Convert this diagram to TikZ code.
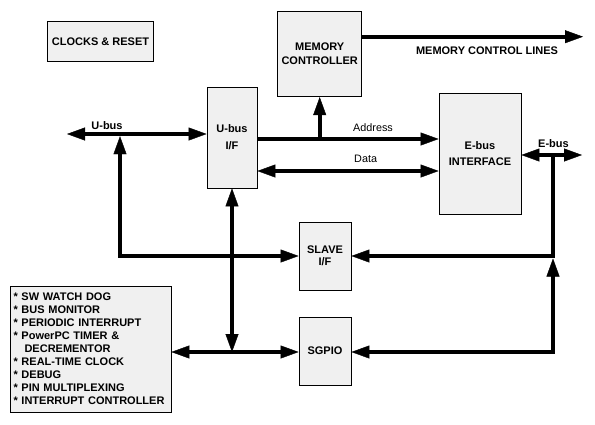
\documentclass[tikz,border=0pt]{standalone}
\usepackage{fontspec}
\setmainfont{Liberation Sans}
\usetikzlibrary{arrows.meta}
\begin{document}
\begin{tikzpicture}[x=1pt,y=-1pt,
  >={Triangle[length=18pt,width=13pt,line width=0.4pt]},
  box/.style={draw,line width=0.8pt,fill=black!6,inner sep=0pt,align=center,
    font=\fontsize{11}{14}\selectfont\bfseries},
  bus/.style={line width=4.3pt},
  lbl/.style={inner sep=0pt,font=\fontsize{10.8}{12}\selectfont},
  blbl/.style={inner sep=0pt,font=\fontsize{11}{12}\selectfont\bfseries}]
\useasboundingbox[fill=white] (0,0) rectangle (595,424);

% boxes
\node[box,minimum width=106,minimum height=40] (clk) at (100.5,41.3) {CLOCKS \& RESET};
\node[box,minimum width=84,minimum height=85] (mc) at (319.7,54.2) {MEMORY\\CONTROLLER};
\node[box,minimum width=50,minimum height=101,font=\fontsize{11}{17}\selectfont\bfseries] (ubus) at (232,137.5) {U-bus\\I/F};
\node[box,minimum width=82,minimum height=121,font=\fontsize{11}{16.7}\selectfont\bfseries] (ebus) at (480,153.5) {E-bus\\INTERFACE};
\node[box,minimum width=52,minimum height=68,font=\fontsize{11}{11.7}\selectfont\bfseries] (slave) at (325,256) {SLAVE\\I/F};
\node[box,minimum width=52,minimum height=68] (sgpio) at (325,351) {SGPIO};
\node[box,minimum height=126,align=left,text width=154.6pt,inner xsep=2.8pt,
  font=\fontsize{11}{13}\selectfont\bfseries] (list) at (90.85,349) {%
{*} SW WATCH DOG\\
{*} BUS MONITOR\\
{*} PERIODIC INTERRUPT\\
{*} PowerPC TIMER \&\\
\hspace*{11pt}DECREMENTOR\\
{*} REAL-TIME CLOCK\\
{*} DEBUG\\
{*} PIN MULTIPLEXING\\
{*} INTERRUPT CONTROLLER};

% labels
\node[blbl] (mcltxt) at (487,51) {MEMORY CONTROL LINES};
\node[blbl] (ubuslbl) at (107,126) {U-bus};
\node[lbl,anchor=west] (addrlbl) at (353,128) {Address};
\node[lbl,anchor=west] (datalbl) at (354,159) {Data};
\node[blbl] (ebuslbl) at (553.5,143.3) {E-bus};

% coordinates
\coordinate (mclEnd) at (583,36.7);
\coordinate (ubusEnd) at (67,134);
\coordinate (ltap) at (120,136.2);
\coordinate (addrY) at (0,139);
\coordinate (dataY) at (0,171);
\coordinate (sgY) at (0,352);
\coordinate (eEnd) at (582,155);
\coordinate (etap) at (553,155);
\coordinate (etip) at (553,258.5);

% connectors
\draw[bus,->] (mc.east |- mclEnd) -- (mclEnd);
\draw[bus,<->] (ubusEnd) -- (ubus.west |- ubusEnd);
\draw[bus,<->] (ltap) |- (slave.west);
\draw[bus,->] (ubus.east |- addrY) -- (ebus.west |- addrY);
\draw[bus,->] (mc.south |- addrY) -- (mc.south);
\draw[bus,<->] (ubus.east |- dataY) -- (ebus.west |- dataY);
\draw[bus,<->] (ubus.south) -- (ubus.south |- sgY);
\draw[bus,<->] (list.east |- sgY) -- (sgpio.west |- sgY);
\draw[bus,<->] (ebus.east |- eEnd) -- (eEnd);
\draw[bus,->] (etap) |- (slave.east);
\draw[bus,<->] (etip) |- (sgpio.east |- sgY);
\end{tikzpicture}
\end{document}
